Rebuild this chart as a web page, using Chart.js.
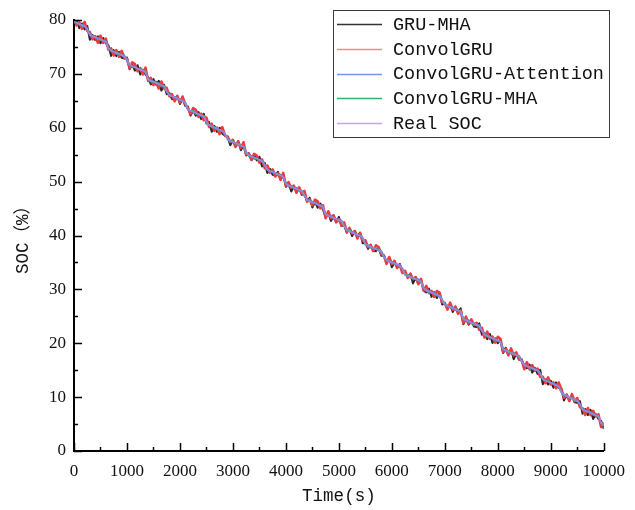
<!DOCTYPE html>
<html>
<head>
<meta charset="utf-8">
<script src="https://cdn.jsdelivr.net/npm/chart.js@4.4.1/dist/chart.umd.min.js"></script>
<style>
html,body{margin:0;padding:0;background:#fff;}
canvas{display:block;}
</style>
</head>
<body>
<canvas id="c" width="635" height="510"></canvas>
<script>
// ---- data ----
const timeS = [
0,50,100,150,200,250,300,350,400,450,
500,550,600,650,700,750,800,850,900,950,
1000,1050,1100,1150,1200,1250,1300,1350,1400,1450,
1500,1550,1600,1650,1700,1750,1800,1850,1900,1950,
2000,2050,2100,2150,2200,2250,2300,2350,2400,2450,
2500,2550,2600,2650,2700,2750,2800,2850,2900,2950,
3000,3050,3100,3150,3200,3250,3300,3350,3400,3450,
3500,3550,3600,3650,3700,3750,3800,3850,3900,3950,
4000,4050,4100,4150,4200,4250,4300,4350,4400,4450,
4500,4550,4600,4650,4700,4750,4800,4850,4900,4950,
5000,5050,5100,5150,5200,5250,5300,5350,5400,5450,
5500,5550,5600,5650,5700,5750,5800,5850,5900,5950,
6000,6050,6100,6150,6200,6250,6300,6350,6400,6450,
6500,6550,6600,6650,6700,6750,6800,6850,6900,6950,
7000,7050,7100,7150,7200,7250,7300,7350,7400,7450,
7500,7550,7600,7650,7700,7750,7800,7850,7900,7950,
8000,8050,8100,8150,8200,8250,8300,8350,8400,8450,
8500,8550,8600,8650,8700,8750,8800,8850,8900,8950,
9000,9050,9100,9150,9200,9250,9300,9350,9400,9450,
9500,9550,9600,9650,9700,9750,9800,9850,9900,9950,
10000];

const realSOC = [
79.70,79.49,79.28,79.06,78.85,78.28,77.23,77.01,76.80,76.59,
76.38,76.16,75.95,74.71,74.33,74.11,73.90,73.69,73.48,73.26,
72.55,71.64,71.43,71.21,71.00,70.79,70.58,70.36,68.97,68.74,
68.53,68.31,68.10,67.89,67.68,66.81,66.05,65.84,65.63,65.41,
65.20,64.99,64.66,63.36,63.15,62.94,62.73,62.51,62.30,62.09,
61.09,60.46,60.25,60.04,59.83,59.61,59.40,58.93,57.78,57.56,
57.35,57.14,56.93,56.71,56.50,55.35,54.88,54.66,54.45,54.24,
54.03,53.81,53.19,52.19,51.98,51.76,51.55,51.34,51.13,50.91,
49.62,49.29,49.08,48.86,48.65,48.44,48.23,47.46,46.60,46.39,
46.18,45.96,45.75,45.54,45.31,43.91,43.70,43.49,43.28,43.06,
42.85,42.64,41.73,41.01,40.80,40.59,40.38,40.16,39.95,39.57,
38.33,38.11,37.90,37.69,37.48,37.26,37.05,36.00,35.43,35.21,
35.00,34.79,34.58,34.36,33.84,32.74,32.53,32.31,32.10,31.89,
31.68,31.46,30.27,29.84,29.63,29.41,29.20,28.99,28.78,28.10,
27.15,26.94,26.73,26.51,26.30,26.09,25.88,24.53,24.25,24.04,
23.83,23.61,23.40,23.19,22.38,21.56,21.35,21.14,20.93,20.71,
20.50,20.22,18.88,18.66,18.45,18.24,18.03,17.81,17.60,16.65,
15.98,15.76,15.55,15.34,15.13,14.91,14.48,13.29,13.08,12.86,
12.65,12.44,12.23,12.01,10.91,10.39,10.18,9.96,9.75,9.54,
9.33,8.75,7.70,7.49,7.28,7.06,6.85,6.64,6.43,5.18,
4.80];

const gruMHA = [
79.30,79.99,78.48,79.36,78.25,78.88,76.33,77.21,76.30,76.99,
75.68,76.66,75.65,75.31,73.33,74.41,73.30,74.09,72.98,72.86,
73.05,70.84,71.73,70.61,71.60,69.89,70.78,69.86,69.37,68.04,
69.03,68.01,68.70,66.89,67.98,66.21,66.45,65.34,65.23,65.91,
64.40,65.29,64.06,63.96,62.25,63.14,62.23,62.91,61.60,62.59,
60.79,61.06,59.25,60.34,59.23,60.01,58.90,58.53,58.28,56.76,
57.65,56.54,57.53,55.81,56.70,54.85,55.28,53.96,54.95,53.94,
54.63,52.81,53.49,51.59,52.38,51.26,51.15,51.84,50.33,51.21,
49.02,49.89,48.18,49.06,48.15,48.84,47.53,47.96,46.30,46.99,
45.18,46.26,45.15,45.94,44.81,43.51,44.20,42.69,43.58,42.46,
43.45,41.74,41.93,40.51,41.20,39.89,40.88,39.86,40.55,38.57,
38.63,37.51,38.30,37.19,37.08,37.76,36.25,36.30,34.83,35.81,
34.10,34.99,34.08,34.76,33.14,33.24,32.23,32.91,31.10,32.19,
31.08,31.86,29.77,29.44,30.13,28.61,29.50,28.39,29.38,27.20,
27.35,26.44,27.13,25.81,26.80,25.79,26.48,23.53,24.55,23.44,
24.23,23.11,23.00,23.69,21.58,21.86,20.75,21.74,20.03,20.91,
20.00,20.62,18.18,19.16,18.15,18.84,17.03,18.11,17.00,17.05,
15.48,15.36,16.05,14.54,15.43,14.31,15.08,12.39,13.28,12.36,
13.05,11.74,12.73,11.71,11.51,9.39,10.48,9.36,10.15,9.04,
8.93,9.25,6.90,7.79,6.68,7.66,5.95,6.84,5.93,5.58,
4.10];

const convolGRU = [
80.30,78.99,79.58,78.36,79.65,77.98,77.73,76.41,77.00,75.79,
77.08,75.76,76.55,74.51,74.73,73.41,74.40,73.19,74.28,72.96,
72.85,71.04,72.13,71.81,70.50,71.09,69.88,71.16,68.67,69.24,
67.93,68.51,67.30,68.59,67.28,67.41,65.85,66.24,64.93,65.91,
64.70,65.79,64.36,63.66,62.55,63.64,63.33,62.01,62.60,61.39,
61.89,60.16,60.75,59.44,60.03,58.81,60.10,58.53,58.38,57.36,
57.75,56.44,57.43,56.21,57.30,55.05,55.18,54.06,55.15,54.84,
53.53,54.11,52.49,52.99,51.68,52.26,50.95,51.54,50.33,51.61,
49.22,49.89,48.88,49.26,47.95,48.94,47.73,48.26,46.30,46.69,
45.58,46.66,46.35,45.04,45.61,43.21,44.50,43.19,43.78,42.46,
43.05,41.84,42.43,40.61,41.40,40.39,40.78,39.46,40.45,39.07,
39.13,37.81,38.20,37.09,38.18,37.86,36.55,36.30,34.73,36.01,
34.70,35.29,33.98,34.56,33.04,33.44,32.13,32.91,31.90,32.29,
30.98,31.96,29.77,30.64,29.33,29.71,28.60,29.69,29.38,27.60,
27.45,26.24,27.53,26.21,26.80,25.49,26.08,23.73,24.95,23.64,
24.43,23.41,23.80,22.49,22.88,21.06,22.15,20.84,21.23,20.11,
21.20,20.82,18.38,18.96,17.75,19.04,17.73,18.31,17.00,16.85,
15.18,16.46,15.15,15.94,14.93,15.31,13.78,13.79,12.58,13.66,
12.35,12.74,11.63,12.71,11.51,9.89,10.48,9.26,10.55,9.24,
9.83,8.15,7.90,6.69,7.98,6.66,7.45,6.44,6.83,4.48,
5.30];

const convolGRUAttention = [
79.90,79.34,79.38,78.81,79.00,78.18,77.48,76.81,76.85,76.44,
76.58,76.11,76.05,74.91,74.18,74.21,73.65,73.84,73.38,73.51,
72.35,71.69,71.28,71.41,70.95,70.89,70.78,70.21,69.07,68.49,
68.68,68.21,68.35,67.69,67.73,66.66,66.25,65.79,65.73,65.61,
65.05,65.09,64.41,63.51,63.05,63.19,62.53,62.56,62.15,62.29,
61.04,60.56,60.45,59.89,59.93,59.36,59.55,58.83,58.03,57.36,
57.40,56.99,57.13,56.66,56.60,55.55,54.73,54.76,54.20,54.39,
53.93,54.06,52.99,52.24,51.83,51.96,51.50,51.44,51.33,50.76,
49.72,49.04,49.23,48.76,48.90,48.24,48.28,47.31,46.80,46.34,
46.28,46.16,45.60,45.64,45.06,44.06,43.60,43.74,43.08,43.11,
42.70,42.84,41.68,41.11,41.00,40.44,40.48,39.91,40.10,39.47,
38.58,37.91,37.95,37.54,37.68,37.21,37.15,36.20,35.28,35.31,
34.75,34.94,34.48,34.61,33.64,32.79,32.38,32.51,32.05,31.99,
31.88,31.31,30.37,29.59,29.78,29.31,29.45,28.79,28.83,27.95,
27.35,26.89,26.83,26.71,26.15,26.19,25.63,24.68,24.15,24.29,
23.63,23.66,23.25,23.39,22.33,21.66,21.55,20.99,21.03,20.46,
20.65,20.12,19.13,18.46,18.50,18.09,18.23,17.76,17.70,16.85,
15.83,15.86,15.30,15.49,15.03,15.16,14.28,13.34,12.93,13.06,
12.60,12.54,12.43,11.86,11.01,10.14,10.33,9.86,10.00,9.34,
9.38,8.60,7.90,7.44,7.38,7.26,6.70,6.74,6.18,5.33,
4.70];

const convolGRUMHA = [
79.60,79.64,79.08,79.16,78.80,78.48,77.08,77.06,76.70,76.74,
76.33,76.06,76.10,74.51,74.43,74.06,74.10,73.54,73.53,73.16,
72.70,71.59,71.33,71.36,70.80,70.89,70.53,70.56,68.82,68.79,
68.43,68.46,68.05,67.79,67.83,66.61,66.15,65.79,65.83,65.26,
65.25,64.89,64.81,63.31,63.05,63.09,62.53,62.61,62.25,62.29,
60.94,60.51,60.15,60.19,59.78,59.51,59.55,58.73,57.88,57.51,
57.55,56.99,56.98,56.61,56.65,55.30,54.78,54.81,54.25,54.34,
53.98,54.01,53.04,52.24,51.88,51.91,51.50,51.24,51.28,50.71,
49.72,49.24,49.28,48.71,48.70,48.34,48.38,47.41,46.50,46.54,
45.98,46.06,45.70,45.74,45.16,43.96,43.60,43.64,43.23,42.96,
43.00,42.44,41.83,40.96,41.00,40.44,40.43,40.06,40.10,39.52,
38.23,38.26,37.70,37.79,37.43,37.46,36.90,36.05,35.33,35.36,
34.95,34.69,34.73,34.16,33.94,32.69,32.73,32.16,32.15,31.79,
31.83,31.41,30.17,29.99,29.43,29.51,29.15,29.19,28.63,28.15,
27.05,27.09,26.68,26.41,26.45,25.89,25.98,24.48,24.45,23.89,
23.88,23.51,23.55,23.14,22.28,21.71,21.15,21.24,20.88,20.91,
20.35,20.27,18.78,18.81,18.40,18.14,18.18,17.61,17.70,16.60,
16.18,15.61,15.60,15.24,15.28,14.86,14.38,13.44,12.88,12.96,
12.60,12.64,12.08,12.06,10.81,10.54,10.13,9.86,9.90,9.34,
9.43,8.70,7.90,7.34,7.33,6.96,7.00,6.59,6.33,5.33,
4.60];

const seriesNames = ['GRU-MHA','ConvolGRU','ConvolGRU-Attention','ConvolGRU-MHA','Real SOC'];
const xTickVals = [0,1000,2000,3000,4000,5000,6000,7000,8000,9000,10000];
const yTickVals = [0,10,20,30,40,50,60,70,80];
const xTitle = 'Time(s)';
const yTitle = 'SOC（%）';

// ---- styles ----
const colors = ['#262626','#f23a3a','#4a7fe0','#1fae5e','#9a84e0'];
const legendColors = ['#333333','#f08a8a','#6f9be6','#2fb26a','#c3a6ee'];
const widths = [2,2.6,1.6,1.4,1.8];
const drawOrder = [4,3,2,1,0]; // lower = on top
const seriesValues = [gruMHA, convolGRU, convolGRUAttention, convolGRUMHA, realSOC];

const datasets = seriesNames.map((name,k)=>({
  label: name,
  data: timeS.map((t,i)=>({x:t, y:seriesValues[k][i]})),
  borderColor: colors[k],
  backgroundColor: colors[k],
  borderWidth: widths[k],
  borderJoinStyle: 'round',
  pointRadius: 0,
  tension: 0,
  fill: false,
  order: drawOrder[k]
}));

const tickFont = {family:'"Liberation Serif", "DejaVu Serif", serif', size:17};
const monoFont = '"Liberation Mono", "Noto Sans CJK SC", monospace';

const decor = {
  id:'decor',
  afterDraw(chart){
    const ctx = chart.ctx;
    const xs = chart.scales.x, ys = chart.scales.y;
    const axX = chart.chartArea.left, axY = chart.chartArea.bottom;
    ctx.save();
    ctx.strokeStyle = '#000';
    ctx.lineWidth = 1.5;
    ctx.beginPath();
    xTickVals.forEach((v,i)=>{
      const px = Math.round(xs.getPixelForValue(v))+0.5;
      ctx.moveTo(px, axY); ctx.lineTo(px, axY-8);
      if (i < xTickVals.length-1){
        const pm = Math.round(xs.getPixelForValue((v+xTickVals[i+1])/2))+0.5;
        ctx.moveTo(pm, axY); ctx.lineTo(pm, axY-4);
      }
    });
    yTickVals.forEach((v,i)=>{
      const py = Math.round(ys.getPixelForValue(v))+0.5;
      ctx.moveTo(axX, py); ctx.lineTo(axX+8, py);
      if (i < yTickVals.length-1){
        const pm = Math.round(ys.getPixelForValue((v+yTickVals[i+1])/2))+0.5;
        ctx.moveTo(axX, pm); ctx.lineTo(axX+4, pm);
      }
    });
    ctx.stroke();

    // legend box
    const bx = 333.5, by = 10.5, bw = 276, bh = 127;
    ctx.fillStyle = '#fff';
    ctx.fillRect(bx, by, bw, bh);
    ctx.lineWidth = 1;
    ctx.strokeStyle = '#3a3a3a';
    ctx.strokeRect(bx, by, bw, bh);
    ctx.font = '18.5px ' + monoFont;
    ctx.textBaseline = 'middle';
    ctx.textAlign = 'left';
    chart.data.datasets.forEach((ds,i)=>{
      const ry = 24 + i*24.8;
      ctx.strokeStyle = legendColors[i];
      ctx.lineWidth = 1.3;
      ctx.beginPath();
      ctx.moveTo(337, Math.round(ry)+0.5);
      ctx.lineTo(382, Math.round(ry)+0.5);
      ctx.stroke();
      ctx.fillStyle = '#111';
      ctx.fillText(ds.label, 393, ry+1);
    });
    ctx.restore();
  }
};

new Chart(document.getElementById('c'), {
  type:'line',
  data:{datasets},
  plugins:[decor],
  options:{
    responsive:false,
    animation:false,
    devicePixelRatio:1,
    layout:{padding:{top:20,right:24,bottom:0,left:0}},
    plugins:{legend:{display:false}, tooltip:{enabled:false}},
    scales:{
      x:{
        type:'linear', min:0, max:10000,
        afterFit(s){ s.height = 59; },
        afterBuildTicks(s){ s.ticks = xTickVals.map(v=>({value:v})); },
        ticks:{font:tickFont, color:'#111', padding:10, maxRotation:0, autoSkip:false, callback:(v)=>String(v)},
        grid:{display:false, drawTicks:false},
        border:{display:true, color:'#000', width:2},
        title:{display:true, text:xTitle, color:'#111', font:{family:monoFont, size:17.5}, padding:{top:0, bottom:3}}
      },
      y:{
        type:'linear', min:0, max:80,
        afterFit(s){ s.width = 74; },
        afterBuildTicks(s){ s.ticks = yTickVals.map(v=>({value:v})); },
        ticks:{font:tickFont, color:'#111', padding:8, callback:(v)=>String(v)},
        grid:{display:false, drawTicks:false},
        border:{display:true, color:'#000', width:2},
        title:{display:true, text:yTitle, color:'#111', font:{family:monoFont, size:17.5}, padding:{top:13, bottom:0}}
      }
    }
  }
});
</script>
</body>
</html>
